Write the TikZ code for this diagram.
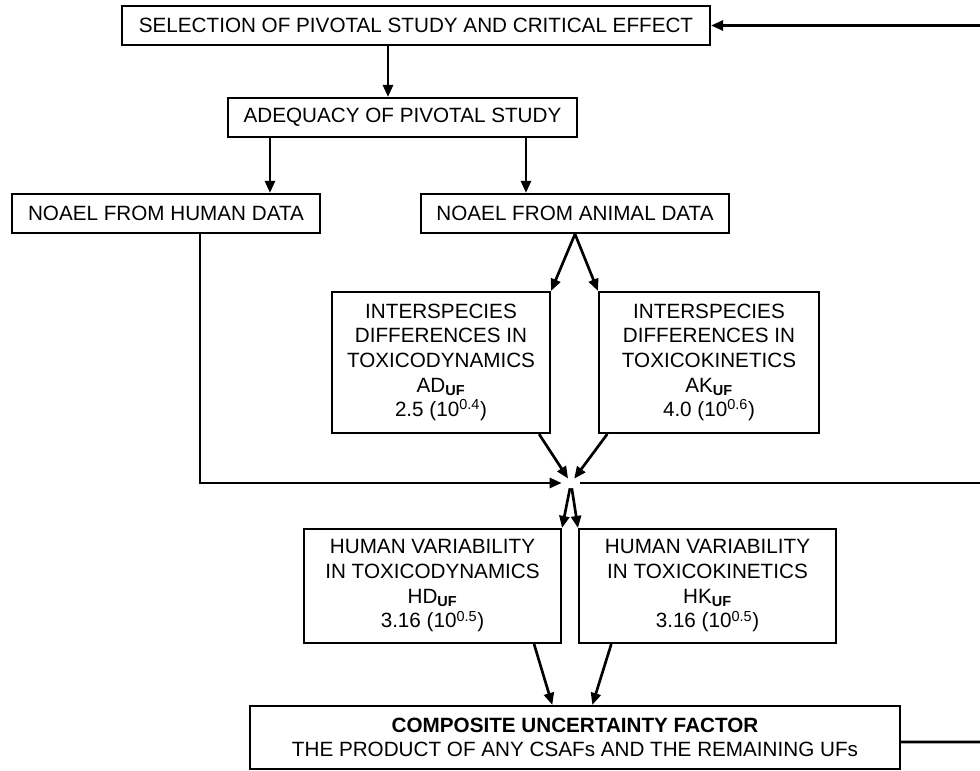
\documentclass[tikz,border=0pt]{standalone}
\usepackage{fontspec}
\setmainfont{Liberation Sans}
\usetikzlibrary{arrows.meta}

\begin{document}
\begin{tikzpicture}[x=0.75pt, y=-0.75pt,
    box/.style={draw, line width=1.6pt, align=center, inner sep=0pt, font=\fontsize{15.5}{18.5}\selectfont},
    arr/.style={line width=2pt, -{Triangle[length=9pt, width=7.5pt]}},
    plain/.style={line width=2pt}]
    \useasboundingbox (0,0) rectangle (980,770);
    \node[box, minimum width=441pt, minimum height=29.25pt] (sel) at (416,25.5) {SELECTION OF PIVOTAL STUDY AND CRITICAL EFFECT};
    \node[box, minimum width=261.75pt, minimum height=29.25pt] (adeq) at (402.5,117.5) {ADEQUACY OF PIVOTAL STUDY};
    \node[box, minimum width=231pt, minimum height=29.25pt] (human) at (166,213.5) {NOAEL FROM HUMAN DATA};
    \node[box, minimum width=231pt, minimum height=29.25pt] (animal) at (575,213.5) {NOAEL FROM ANIMAL DATA};
    \node[box, minimum width=163.5pt, minimum height=105.75pt] (td) at (441,362.5) {INTERSPECIES\\DIFFERENCES IN\\TOXICODYNAMICS\\AD\textsubscript{\textbf{UF}}\\2.5 (10\textsuperscript{0.4})};
    \node[box, minimum width=165pt, minimum height=105.75pt] (tk) at (709,362.5) {INTERSPECIES\\DIFFERENCES IN\\TOXICOKINETICS\\AK\textsubscript{\textbf{UF}}\\4.0 (10\textsuperscript{0.6})};
    \node[box, minimum width=192.75pt, minimum height=85.5pt] (hd) at (432.5,586) {HUMAN VARIABILITY\\IN TOXICODYNAMICS\\HD\textsubscript{\textbf{UF}}\\3.16 (10\textsuperscript{0.5})};
    \node[box, minimum width=192.75pt, minimum height=85.5pt] (hk) at (707.5,586) {HUMAN VARIABILITY\\IN TOXICOKINETICS\\HK\textsubscript{\textbf{UF}}\\3.16 (10\textsuperscript{0.5})};
    \node[box, minimum width=487.5pt, minimum height=47.25pt] (comp) at (575,737.5) {\textbf{COMPOSITE UNCERTAINTY FACTOR}\\THE PRODUCT OF ANY CSAFs AND THE REMAINING UFs};
    \coordinate (j) at (571,483);
    \coordinate (e1) at (980,483);
    \coordinate (e2) at (980,742);
    \coordinate (e3) at (980,25.5);

    \draw[arr] ([xshift=-21pt]sel.south) -- ([xshift=-21pt]sel.south |- adeq.north);
    \draw[arr] ([xshift=-99.4pt]adeq.south) -- ([xshift=-99.4pt]adeq.south |- human.north);
    \draw[arr] ([xshift=92.6pt]adeq.south) -- ([xshift=92.6pt]adeq.south |- animal.north);
    \draw[arr] (animal.south) -- (td.north east);
    \draw[arr] (animal.south) -- (tk.north west);
    \draw[arr, shorten >=7pt] ([xshift=25.5pt]human.south) |- (j);
    \draw[arr, shorten >=4pt] ([xshift=-9pt]td.south east) -- (j);
    \draw[arr, shorten >=4pt] ([xshift=7pt]tk.south west) -- (j);
    \draw[plain, shorten <=7pt] (j) -- (e1);
    \draw[arr, shorten <=4pt] (j) -- (hd.north east);
    \draw[arr, shorten <=4pt] (j) -- (hk.north west);
    \draw[arr] ([xshift=-21pt]hd.south east) -- ([xshift=-17pt]comp.north);
    \draw[arr] ([xshift=25pt]hk.south west) -- ([xshift=13pt]comp.north);
    \draw[plain] ([yshift=-3.4pt]comp.east) -- (e2);
    \draw[arr] (e3) -- (sel.east);
\end{tikzpicture}
\end{document}
